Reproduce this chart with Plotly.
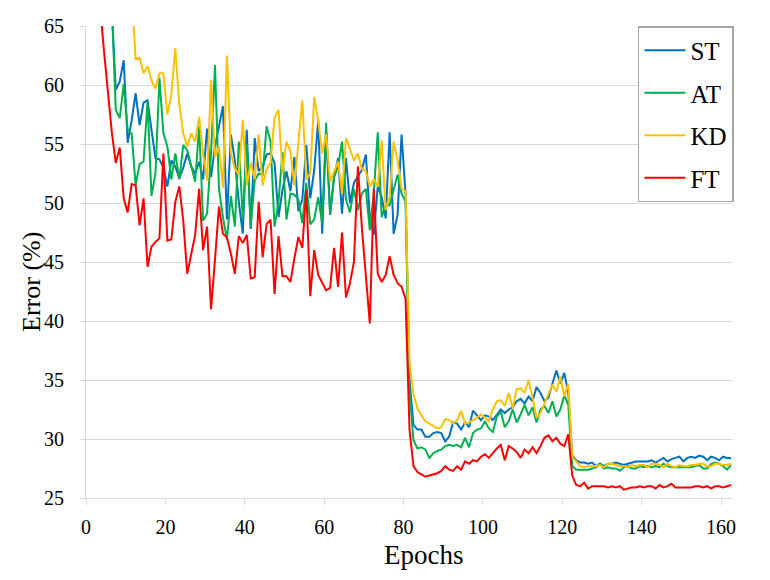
import plotly.graph_objects as go

# Epoch index of each recorded point (plotted at the centre of its epoch slot)
epochs = list(range(163))

series_names = ["ST", "AT", "KD", "FT"]
series_colors = ["#0070C0", "#00B050", "#FFC000", "#FF0000"]

st_err = [
    80, 76, 73, 71, 69, 67.5, 66.4,
    59.6, 60.3, 62.1, 55.1, 57.0, 59.3, 56.6, 58.5, 58.7, 56.2, 53.8, 53.7, 53.0, 51.4,
    53.6, 53.1, 52.1, 53.0, 54.2, 53.1, 52.5, 53.5, 52.0, 56.3, 52.2, 54.8, 56.5, 58.2, 48.6, 55.8, 53.6, 50.1, 47.4, 56.2,
    47.8, 55.5, 52.7, 53.1, 54.1, 54.2, 53.4, 48.8, 51.1, 52.7, 51.0, 53.9, 49.3, 50.3, 54.9, 50.4, 52.8, 57.0, 47.4, 56.0,
    49.0, 52.2, 53.8, 49.1, 53.8, 50.0, 51.7, 52.3, 52.8, 54.1, 48.8, 47.3, 51.4, 50.5, 48.7, 56.0, 47.4, 49.0, 55.8, 50.8, 35.0,
    31.2, 30.8, 30.8, 30.2, 30.2, 30.5, 30.6, 30.5, 29.8, 30.2, 31.4, 31.3, 30.8, 31.4, 31.0, 32.4, 32.0, 31.6, 32.0, 31.9,
    31.6, 32.1, 32.5, 32.2, 32.5, 32.7, 33.2, 33.4, 33.0, 33.6, 33.2, 34.4, 33.9, 33.2, 33.5, 34.7, 35.8, 34.7, 35.6, 33.9,
    28.6, 28.2, 28.0, 28.0, 27.9, 28.0, 27.7, 27.9, 27.7, 27.9, 27.9, 28.0, 27.9, 27.8, 27.9, 28.0, 28.1, 28.1, 28.1, 28.1,
    28.2, 28.0, 28.2, 28.4, 28.1, 28.3, 28.4, 28.5, 28.1, 28.4, 28.5, 28.4, 28.6, 28.5, 28.2, 28.5, 28.4, 28.2, 28.5, 28.4, 28.4,
]

at_err = [
    82, 78, 75, 72, 70, 68.5, 66.8,
    57.9, 57.2, 60.1, 56.2, 55.9, 51.5, 53.3, 53.5, 58.6, 50.6, 52.5, 60.6, 55.9, 54.8,
    52.0, 54.2, 52.0, 54.9, 54.5, 53.2, 51.8, 56.5, 48.5, 49.1, 54.2, 61.7, 51.2, 48.8, 46.9, 50.6, 48.0, 55.2, 48.6, 55.0,
    48.0, 51.9, 52.5, 52.4, 56.5, 55.2, 48.0, 50.1, 54.3, 48.6, 50.8, 50.7, 50.3, 48.3, 51.7, 48.2, 48.6, 50.5, 48.3, 56.8,
    49.1, 52.2, 53.1, 55.2, 50.3, 49.2, 51.2, 49.4, 50.8, 51.2, 47.7, 50.8, 56.0, 48.8, 49.8, 49.8, 51.2, 52.4, 50.8, 50.1, 34.0,
    29.9, 29.2, 29.3, 29.1, 28.4, 28.8, 29.0, 29.1, 29.4, 29.5, 29.4, 29.5, 29.3, 30.1, 29.3, 30.5, 30.8, 30.9, 31.5, 30.9,
    30.6, 31.9, 32.3, 31.0, 31.5, 32.5, 31.4, 32.1, 32.9, 32.0, 32.7, 31.4, 32.5, 32.8, 32.2, 33.2, 31.9, 32.5, 33.7, 32.9,
    27.7, 27.4, 27.4, 27.4, 27.4, 27.5, 27.6, 27.9, 27.5, 27.6, 27.5, 27.5, 27.3, 27.6, 27.7, 27.5, 27.5, 27.7, 27.6, 27.7,
    27.6, 27.7, 27.6, 27.9, 27.7, 27.6, 27.6, 27.6, 27.6, 27.6, 27.6, 27.7, 27.8, 27.5, 27.5, 27.9, 28.0, 27.9, 27.7, 27.4, 27.8,
]

kd_err = [
    88, 85, 82, 80, 78, 76.5, 75, 73.5, 72, 71, 70, 68,
    62.2, 62.3, 61.0, 61.6, 60.4, 59.7, 61.0, 61.0, 57.5,
    59.2, 63.1, 58.4, 55.9, 54.8, 55.9, 55.2, 57.3, 54.2, 51.9, 60.4, 53.9, 54.8, 51.3, 62.5, 54.2, 52.9, 52.4, 57.0, 51.5,
    53.4, 52.0, 55.8, 51.5, 52.9, 53.4, 57.2, 57.9, 52.5, 55.2, 54.4, 51.5, 55.3, 58.7, 52.0, 52.5, 59.0, 57.0, 54.2, 55.8,
    51.8, 52.7, 53.5, 50.8, 55.5, 54.6, 53.6, 54.2, 52.9, 52.7, 51.4, 52.0, 51.4, 55.3, 49.4, 50.5, 55.2, 53.6, 51.2, 51.0, 36.5,
    33.8, 32.6, 32.0, 31.5, 31.3, 31.1, 30.9, 31.0, 31.7, 31.6, 31.3, 31.6, 32.4, 31.3, 31.4, 31.6, 31.8, 32.1, 31.8, 31.5,
    32.5, 33.2, 33.3, 32.8, 33.9, 32.6, 34.2, 34.3, 33.9, 35.0, 33.5, 31.8, 32.2, 33.0, 33.9, 34.6, 34.0, 35.3, 33.6, 34.7,
    28.5, 28.1, 27.7, 27.6, 27.7, 27.7, 27.7, 27.8, 27.6, 27.9, 27.9, 27.8, 27.7, 27.7, 27.6, 27.8, 27.7, 27.8, 27.8, 27.6,
    27.9, 27.9, 27.8, 27.6, 27.9, 27.7, 27.6, 27.8, 27.7, 27.7, 27.8, 27.8, 27.9, 27.9, 27.7, 27.7, 27.9, 27.9, 27.8, 27.8, 27.9,
]

ft_err = [
    78, 74, 70, 66.8, 63.0, 59.5, 56.0,
    53.4, 54.7, 50.4, 49.2, 51.6, 51.5, 48.1, 50.4, 44.6, 46.3, 46.7, 47.0, 54.2, 46.8,
    46.9, 50.1, 51.4, 48.5, 44.0, 45.7, 47.3, 51.2, 46.0, 48.0, 41.0, 45.2, 49.7, 47.4, 47.1, 45.7, 44.0, 47.2, 46.6, 47.3,
    43.6, 43.7, 50.1, 45.4, 48.2, 48.6, 42.3, 47.2, 43.8, 43.8, 43.3, 45.3, 47.1, 46.2, 51.1, 42.1, 46.0, 43.9, 43.2, 42.6,
    42.8, 46.2, 42.9, 47.5, 42.0, 43.2, 45.0, 53.1, 47.9, 44.0, 39.8, 51.2, 44.0, 43.3, 43.9, 45.5, 43.9, 43.2, 42.9, 41.9, 30.8,
    27.7, 27.2, 27.0, 26.8, 26.9, 27.0, 27.1, 27.3, 27.7, 27.4, 27.3, 27.7, 27.4, 28.1, 27.9, 28.2, 28.1, 28.5, 28.7, 28.4,
    28.8, 29.2, 29.5, 28.2, 29.4, 29.2, 28.9, 28.4, 29.1, 28.8, 29.3, 28.8, 29.4, 30.1, 30.3, 29.8, 30.1, 29.6, 29.4, 30.4,
    26.9, 26.1, 26.0, 26.3, 25.8, 26.0, 26.0, 26.0, 26.0, 25.9, 26.0, 25.9, 26.0, 25.7, 25.8, 25.9, 25.9, 26.0, 25.9, 26.0,
    26.0, 25.8, 26.1, 25.9, 26.0, 26.2, 25.9, 25.9, 25.9, 25.9, 25.9, 26.0, 26.0, 25.9, 26.0, 25.8, 26.0, 26.0, 25.9, 26.0, 26.1,
]

x_tick_values = [0, 20, 40, 60, 80, 100, 120, 140, 160]
y_tick_values = [25, 30, 35, 40, 45, 50, 55, 60, 65]

FONT = "Liberation Serif"
GRID = "#D9D9D9"

fig = go.Figure()
x_pos = [e + 0.5 for e in epochs]
for name, color, vals in zip(series_names, series_colors, [st_err, at_err, kd_err, ft_err]):
    fig.add_trace(go.Scatter(
        x=x_pos, y=vals, mode="lines", name=name, legendgroup=name,
        line=dict(color=color, width=2),
    ))

fig.update_layout(
    template="simple_white",
    width=770, height=580,
    margin=dict(l=78, r=45, t=18, b=90, autoexpand=False),
    paper_bgcolor="white", plot_bgcolor="white",
    font=dict(family=FONT, color="black", size=20),
    showlegend=True,
    legend=dict(
        x=0.853, y=1.0, xanchor="left", yanchor="top",
        bgcolor="white", bordercolor="#A6A6A6", borderwidth=1.5,
        font=dict(family=FONT, size=25, color="black"),
        tracegroupgap=7, itemwidth=41,
    ),
    xaxis=dict(
        range=[0, 163], tickmode="array", tickvals=x_tick_values,
        showgrid=False, zeroline=False, automargin=False,
        showline=True, linecolor=GRID, linewidth=1, mirror=False,
        ticks="outside", ticklen=6, tickcolor=GRID, tickwidth=1,
        ticklabelstandoff=5,
        tickfont=dict(family=FONT, size=20, color="black"),
    ),
    yaxis=dict(
        range=[25, 65], tickmode="array", tickvals=y_tick_values,
        showgrid=True, gridcolor=GRID, gridwidth=1, zeroline=False, automargin=False,
        showline=True, linecolor=GRID, linewidth=1, mirror=False,
        ticks="outside", ticklen=5, tickcolor=GRID, tickwidth=1,
        ticklabelstandoff=12,
        tickfont=dict(family=FONT, size=20, color="black"),
    ),
    annotations=[
        dict(text="Epochs", xref="paper", yref="paper", x=0.521, y=-0.12,
             xanchor="center", yanchor="middle", showarrow=False,
             font=dict(family=FONT, size=27, color="black")),
        dict(text="Error (%)", xref="paper", yref="paper", x=-0.084, y=0.457,
             xanchor="center", yanchor="middle", showarrow=False, textangle=-90,
             font=dict(family=FONT, size=26, color="black")),
    ],
)

fig.write_html("out.html")
